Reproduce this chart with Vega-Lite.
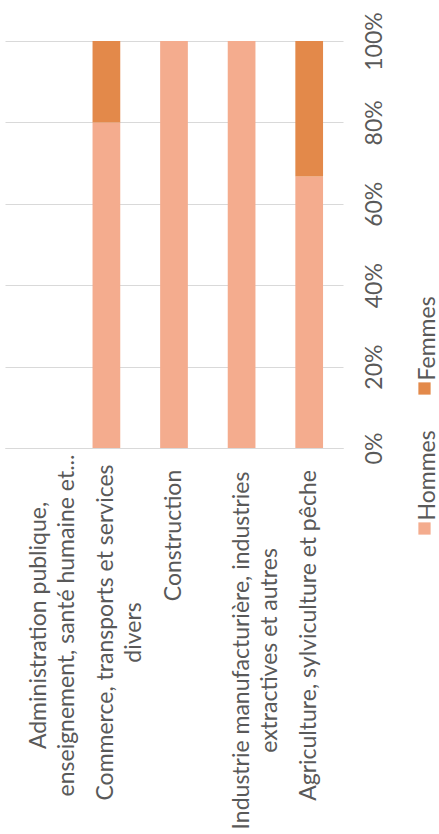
{
  "$schema": "https://vega.github.io/schema/vega-lite/v6.json",
  "width": 338,
  "height": 407,
  "autosize": {"type": "none"},
  "padding": {"left": 5, "top": 41, "right": 96, "bottom": 386},
  "background": "white",
  "config": {"view": {"stroke": null}, "font": "Lato"},
  "data": {
    "values": [
      {"secteur": "Commerce, transports et services divers", "sexe": "Hommes", "part": 80},
      {"secteur": "Commerce, transports et services divers", "sexe": "Femmes", "part": 20},
      {"secteur": "Construction", "sexe": "Hommes", "part": 100},
      {"secteur": "Construction", "sexe": "Femmes", "part": 0},
      {"secteur": "Industrie manufacturière, industries extractives et autres", "sexe": "Hommes", "part": 100},
      {"secteur": "Industrie manufacturière, industries extractives et autres", "sexe": "Femmes", "part": 0},
      {"secteur": "Agriculture, sylviculture et pêche", "sexe": "Hommes", "part": 66.7},
      {"secteur": "Agriculture, sylviculture et pêche", "sexe": "Femmes", "part": 33.3}
    ]
  },
  "mark": {"type": "bar"},
  "encoding": {
    "x": {
      "field": "secteur",
      "type": "nominal",
      "sort": null,
      "scale": {
        "domain": [
          "Administration publique, enseignement, santé humaine et...",
          "Commerce, transports et services divers",
          "Construction",
          "Industrie manufacturière, industries extractives et autres",
          "Agriculture, sylviculture et pêche"
        ],
        "paddingInner": 0.59,
        "paddingOuter": 0.295
      },
      "axis": {
        "title": null,
        "orient": "bottom",
        "ticks": false,
        "domain": true,
        "domainColor": "#D9D9D9",
        "domainWidth": 1,
        "labelAngle": -90,
        "labelAlign": "center",
        "labelBaseline": "middle",
        "labelFont": "Lato",
        "labelFontSize": 23,
        "labelColor": "#595959",
        "labelLimit": 0,
        "labelOverlap": false,
        "labelLineHeight": 28,
        "labelPadding": {"expr": "datum.value == 'Construction' ? 87 : datum.value == 'Industrie manufacturière, industries extractives et autres' ? 202 : datum.value == 'Commerce, transports et services divers' ? 184 : datum.value == 'Agriculture, sylviculture et pêche' ? 187 : 177"},
        "labelExpr": "datum.value == 'Administration publique, enseignement, santé humaine et...' ? ['Administration publique,', 'enseignement, santé humaine et...'] : datum.value == 'Commerce, transports et services divers' ? ['Commerce, transports et services', 'divers'] : datum.value == 'Industrie manufacturière, industries extractives et autres' ? ['Industrie manufacturière, industries', 'extractives et autres'] : datum.label"
      }
    },
    "y": {
      "field": "part",
      "type": "quantitative",
      "stack": "normalize",
      "scale": {"domain": [0, 1]},
      "axis": {
        "title": null,
        "orient": "right",
        "values": [0, 0.2, 0.4, 0.6, 0.8, 1],
        "format": ".0%",
        "grid": true,
        "gridColor": "#D9D9D9",
        "domain": false,
        "ticks": false,
        "labelAngle": -90,
        "labelAlign": "center",
        "labelBaseline": "top",
        "labelPadding": 20,
        "labelFont": "Lato",
        "labelFontSize": 23,
        "labelColor": "#595959"
      }
    },
    "color": {
      "field": "sexe",
      "type": "nominal",
      "scale": {"domain": ["Femmes", "Hommes"], "range": ["#E3894A", "#F4AC8E"]},
      "legend": {
        "title": null,
        "orient": "none",
        "legendX": 408,
        "legendY": 336,
        "direction": "vertical",
        "symbolType": "square",
        "symbolSize": 150,
        "symbolStrokeWidth": 0,
        "labelFont": "Lato",
        "labelFontSize": 23,
        "labelColor": "#595959",
        "labelOffset": -8,
        "labelLimit": 0,
        "rowPadding": 35,
        "encoding": {"labels": {"angle": {"value": -90}, "dx": {"value": 8}}}
      }
    },
    "order": {"field": "sexe", "sort": "descending"}
  }
}
